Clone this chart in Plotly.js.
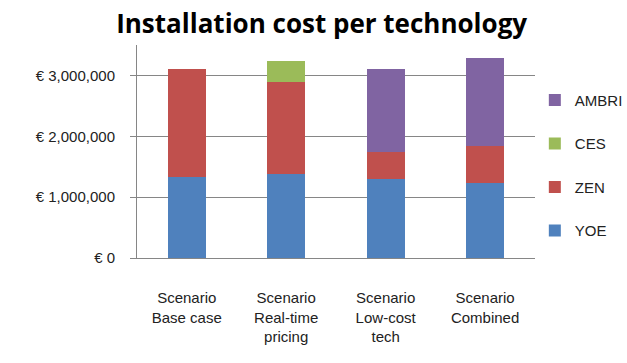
<!DOCTYPE html>
<html><head><meta charset="utf-8">
<script src="https://cdn.plot.ly/plotly-3.0.1.min.js"></script>
<style>html,body{margin:0;padding:0;background:#fff;}</style>
</head><body>
<div id="chart" style="width:627px;height:363px;"></div>
<script>
const categories = ["Scenario<br>Base case", "Scenario<br>Real-time<br>pricing", "Scenario<br>Low-cost<br>tech", "Scenario<br>Combined"];
const YOE   = [1323000, 1384000, 1302000, 1231000];
const ZEN   = [1785000, 1506000, 448000, 602000];
const CES   = [0, 355000, 0, 0];
const AMBRI = [0, 0, 1358000, 1451000];

const series = [
  {name: "YOE", y: YOE, color: "#4F81BD", rank: 4},
  {name: "ZEN", y: ZEN, color: "#C0504D", rank: 3},
  {name: "CES", y: CES, color: "#9BBB59", rank: 2},
  {name: "AMBRI", y: AMBRI, color: "#8064A2", rank: 1}
];

const traces = series.map(s => ({
  type: "bar", x: categories, y: s.y, name: s.name,
  legendgroup: s.name, legendrank: s.rank,
  marker: {color: s.color, line: {width: 0}},
  hoverinfo: "skip"
}));

const layout = {
  width: 627, height: 363,
  margin: {l: 137, r: 89, t: 45, b: 105},
  paper_bgcolor: "#fff", plot_bgcolor: "#fff",
  barmode: "stack", bargap: 0.62,
  title: {text: "<b>Installation cost per technology</b>", x: 0.513, xanchor: "center", y: 0.935, yanchor: "middle",
          font: {family: "Open Sans, Liberation Sans, sans-serif", size: 26, color: "#000"}},
  font: {family: "Liberation Sans, Arial, sans-serif", size: 14, color: "#222"},
  xaxis: {showline: true, linecolor: "#868686", linewidth: 1, ticks: "", showgrid: false,
          ticklabelstandoff: 26, tickfont: {size: 15, color: "#222"}, fixedrange: true},
  yaxis: {range: [0, 3500000], dtick: 1000000, tick0: 0, tickprefix: "€ ", tickformat: ",d",
          showline: true, linecolor: "#868686", linewidth: 1, gridcolor: "#868686", gridwidth: 1,
          ticks: "outside", ticklen: 6, tickcolor: "#868686", zeroline: false, ticklabelstandoff: 12,
          tickfont: {size: 15, color: "#222"}, fixedrange: true},
  legend: {xref: "container", yref: "container", x: 0.853, xanchor: "left", y: 0.769, yanchor: "top",
           traceorder: "grouped", tracegroupgap: 21, font: {size: 15, color: "#222"}, itemwidth: 30,
           bgcolor: "rgba(0,0,0,0)"},
  showlegend: true
};

Plotly.newPlot("chart", traces, layout, {staticPlot: true, displayModeBar: false});
</script>
</body></html>
